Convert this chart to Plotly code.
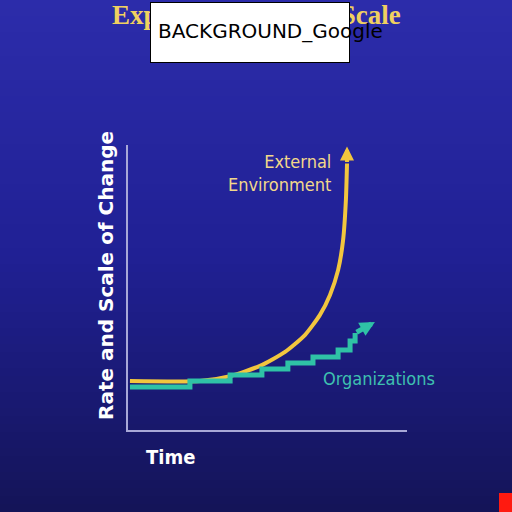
import plotly.graph_objects as go

# Conceptual chart: rate/scale of change over time
external_time = [0.07, 2.58, 3.66, 4.73, 5.63, 6.34, 6.88, 7.24, 7.53, 7.71, 7.81, 7.85]
external_rate = [1.72, 1.72, 1.89, 2.25, 2.74, 3.33, 4.04, 4.74, 5.61, 6.67, 8.07, 9.35]
external_tip = (7.85, 9.95)

org_time = [0.07, 2.22, 3.66, 4.80, 5.73, 6.63, 7.53, 7.96, 8.14]
org_rate = [1.51, 1.72, 1.93, 2.14, 2.35, 2.56, 2.81, 3.12, 3.40]
org_tip = (8.85, 3.79)

yellow = "#f2c63e"
teal = "#2fc2a6"
narrow = "DejaVu Sans Condensed, Liberation Sans Narrow, sans-serif"

# plot area in pixels: x 128..407, y 145..430
L, R, T, B = 128, 407, 145, 430
W, H = R - L, B - T

def px(x):
    return (x - L) / W

def py(y):
    return (B - y) / H

fig = go.Figure()

fig.add_trace(go.Scatter(
    x=external_time, y=external_rate, mode="lines",
    line=dict(color=yellow, width=4, shape="spline", smoothing=0.6),
    hoverinfo="skip"))

fig.add_trace(go.Scatter(
    x=org_time, y=org_rate, mode="lines",
    line=dict(color=teal, width=5, shape="hv"),
    hoverinfo="skip"))

# background gradient bands (whole figure)
def mix(c1, c2, t):
    return "rgb(%d,%d,%d)" % tuple(round(a + (b - a) * t) for a, b in zip(c1, c2))

top, mid, bot = (44, 44, 170), (32, 32, 148), (20, 20, 88)
shapes = []
n = 64
for i in range(n):
    y0 = 512 * i / n
    y1 = 512 * (i + 1) / n + 1
    t = i / (n - 1)
    col = mix(top, mid, t * 2) if t < 0.5 else mix(mid, bot, (t - 0.5) * 2)
    shapes.append(dict(type="rect", xref="paper", yref="paper",
                       x0=px(-1), x1=px(513), y0=py(y1), y1=py(y0),
                       fillcolor=col, line=dict(width=0), layer="below"))

# red corner square
shapes.append(dict(type="rect", xref="paper", yref="paper",
                   x0=px(499), x1=px(513), y0=py(513), y1=py(493),
                   fillcolor="#ff1a10", line=dict(width=0)))

title_font = dict(family="Liberation Serif, serif", size=27, color="#f0d060")


def label(text, x, y, font, xanchor="center", **kw):
    return dict(text=text, xref="paper", yref="paper", x=px(x), y=py(y),
                xanchor=xanchor, yanchor="middle", showarrow=False, font=font, **kw)


annotations = [
    # title (mostly hidden by the label box drawn after it)
    label("<b>Explosive Rate and Scale</b>", 256, 15, title_font),
    label("<b>of Change</b>", 256, 46, title_font),
    # white label box
    dict(text=" ", xref="paper", yref="paper", x=px(150), y=py(2),
         xanchor="left", yanchor="top", width=198, height=59,
         bgcolor="white", bordercolor="black", borderwidth=1, borderpad=0,
         showarrow=False),
    label("BACKGROUND_Google", 156, 31,
          dict(family="DejaVu Sans", size=20, color="black"), xanchor="left"),
    # arrows at line ends
    dict(x=external_tip[0], y=external_tip[1], ax=external_time[-1], ay=external_rate[-1],
         xref="x", yref="y", axref="x", ayref="y", showarrow=True,
         arrowhead=2, arrowsize=0.7, arrowwidth=4, arrowcolor=yellow, text=""),
    dict(x=org_tip[0], y=org_tip[1], ax=org_time[-1], ay=org_rate[-1],
         xref="x", yref="y", axref="x", ayref="y", showarrow=True,
         arrowhead=2, arrowsize=0.6, arrowwidth=5, arrowcolor=teal, text=""),
    # labels
    label("External<br>Environment", 333, 173,
          dict(family=narrow, size=18, color="#f2d88a"), xanchor="right", align="right"),
    label("Organizations", 321, 378,
          dict(family=narrow, size=18, color="#3ec0b0"), xanchor="left"),
    label("<b>Rate and Scale of Change</b>", 106, 276,
          dict(family="DejaVu Sans, sans-serif", size=20, color="white"), textangle=-90),
    label("<b>Time</b>", 170, 457, dict(family=narrow, size=20, color="white")),
]

axis_style = dict(showline=True, linecolor="#a8a8d8", linewidth=2,
                  showgrid=False, zeroline=False, showticklabels=False,
                  ticks="", fixedrange=True)

fig.update_layout(
    width=512, height=512,
    margin=dict(l=L, r=512 - R, t=T, b=512 - B),
    paper_bgcolor="#20208f",
    plot_bgcolor="rgba(0,0,0,0)",
    showlegend=False,
    xaxis=dict(range=[0, 10], **axis_style),
    yaxis=dict(range=[0, 10], **axis_style),
    shapes=shapes,
    annotations=annotations,
)

fig.write_html("out.html", config={"displayModeBar": False},
               post_script="document.body.style.margin='0';")
